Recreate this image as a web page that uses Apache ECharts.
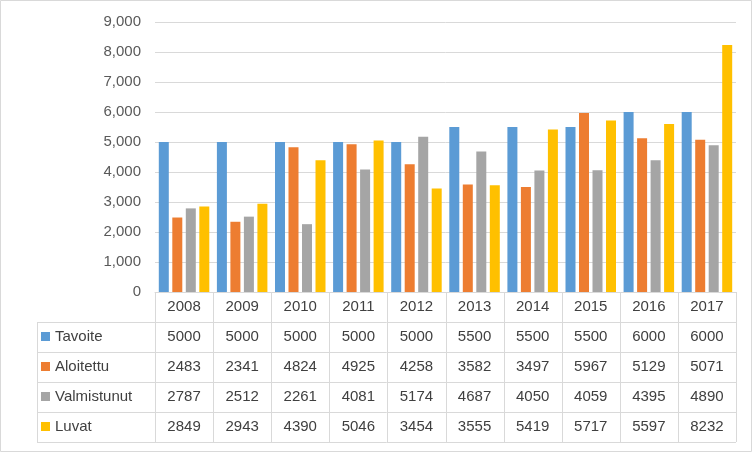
<!DOCTYPE html>
<html lang="fi">
<head>
<meta charset="UTF-8">
<title>Asuntotuotanto</title>
<script src="https://cdn.jsdelivr.net/npm/echarts@6/dist/echarts.min.js"></script>
</head>
<body style="margin:0">
<div id="main" style="width:752px;height:452px;"></div>
<script>
    const years = ['2008','2009','2010','2011','2012','2013','2014','2015','2016','2017'];
    const seriesNames = ['Tavoite','Aloitettu','Valmistunut','Luvat'];
    const tavoite = [5000,5000,5000,5000,5000,5500,5500,5500,6000,6000];
    const aloitettu = [2483,2341,4824,4925,4258,3582,3497,5967,5129,5071];
    const valmistunut = [2787,2512,2261,4081,5174,4687,4050,4059,4395,4890];
    const luvat = [2849,2943,4390,5046,3454,3555,5419,5717,5597,8232];
    const colors = ['#5B9BD5','#ED7D31','#A5A5A5','#FFC000'];
    const values = [tavoite, aloitettu, valmistunut, luvat];

    const chart = echarts.init(document.getElementById('main'));
    const L = 155, R = 736, T = 22, B = 292, rowH = 30, firstX = 37;
    const colW = (R - L) / years.length;
    const font = '15px "Liberation Sans", Arial, sans-serif';
    const lineStyle = {stroke: '#D9D9D9', lineWidth: 1};

    // data table drawn below the plot
    const g = [];
    g.push({type: 'rect', shape: {x: 0.5, y: 0.5, width: 751, height: 451}, style: {fill: 'none', stroke: '#D9D9D9'}});
    for (let r = 0; r <= 5; r++) {
        const y = B + r * rowH + 0.5;
        g.push({type: 'line', shape: {x1: r === 0 ? L : firstX, y1: y, x2: R, y2: y}, style: lineStyle});
    }
    for (let c = 0; c <= years.length; c++) {
        const x = Math.round(L + c * colW) + 0.5;
        g.push({type: 'line', shape: {x1: x, y1: B, x2: x, y2: B + 5 * rowH}, style: lineStyle});
    }
    g.push({type: 'line', shape: {x1: firstX + 0.5, y1: B + rowH, x2: firstX + 0.5, y2: B + 5 * rowH}, style: lineStyle});
    years.forEach((yr, c) => {
        g.push({type: 'text', x: L + (c + 0.5) * colW, y: B + rowH / 2,
            style: {text: yr, font: font, fill: '#404040', align: 'center', verticalAlign: 'middle'}});
    });
    seriesNames.forEach((name, r) => {
        const cy = B + (r + 1.5) * rowH;
        g.push({type: 'rect', shape: {x: 41, y: cy - 5, width: 9, height: 9}, style: {fill: colors[r]}});
        g.push({type: 'text', x: 55, y: cy, style: {text: name, font: font, fill: '#404040', verticalAlign: 'middle'}});
        values[r].forEach((v, c) => {
            g.push({type: 'text', x: L + (c + 0.5) * colW, y: cy,
                style: {text: String(v), font: font, fill: '#404040', align: 'center', verticalAlign: 'middle'}});
        });
    });

    chart.setOption({
        animation: false,
        backgroundColor: '#fff',
        grid: {left: L, right: 752 - R, top: T, bottom: 452 - B},
        xAxis: {type: 'category', data: years, axisLabel: {show: false}, axisTick: {show: false},
            axisLine: {lineStyle: {color: '#D9D9D9'}}},
        yAxis: {type: 'value', min: 0, max: 9000, interval: 1000,
            axisLabel: {color: '#595959', fontSize: 15, fontFamily: 'Liberation Sans', margin: 14},
            splitLine: {lineStyle: {color: '#D9D9D9'}}},
        series: seriesNames.map((name, i) => ({
            name: name, type: 'bar', data: values[i], barWidth: 10, barGap: '35%',
            itemStyle: {color: colors[i]}
        })),
        graphic: g
    });
</script>
</body>
</html>
